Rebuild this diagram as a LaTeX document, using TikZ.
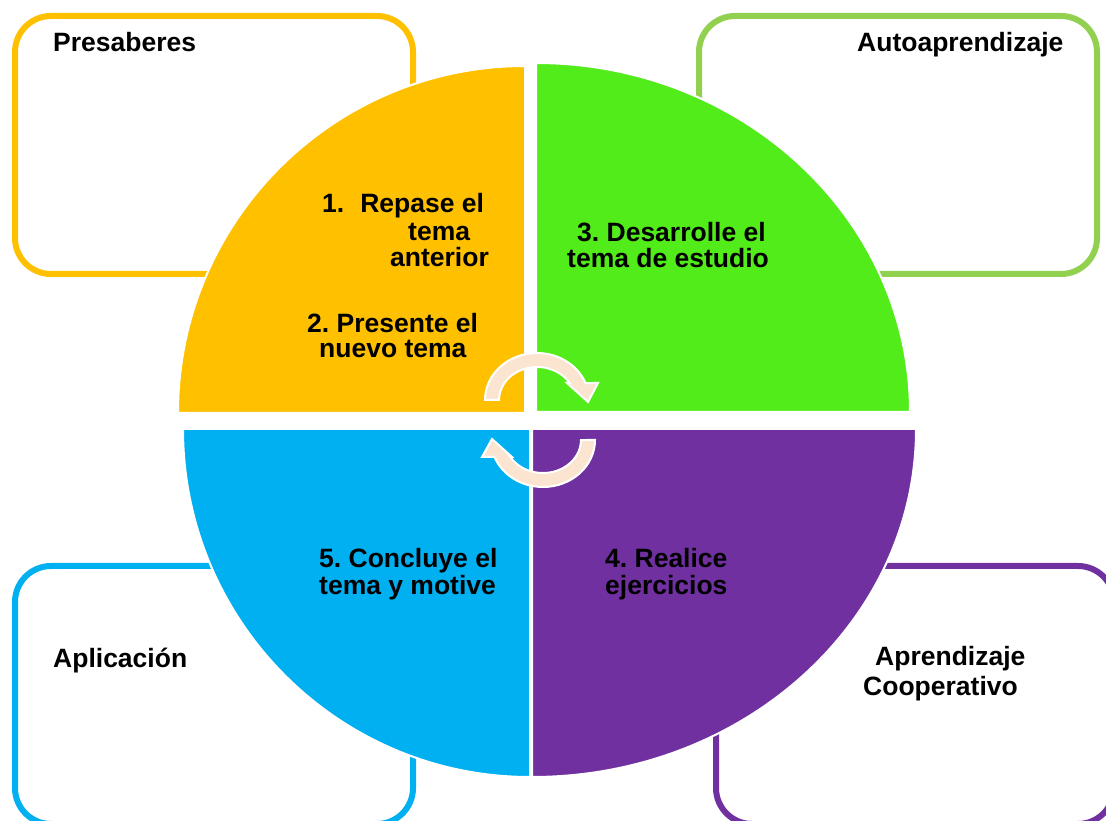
\documentclass[tikz,border=0pt]{standalone}
\usepackage{fontspec}
\setmainfont{Liberation Sans}
\frenchspacing
\definecolor{cOrange}{HTML}{FFC000}
\definecolor{cGreen}{HTML}{52EC1A}
\definecolor{cLGreen}{HTML}{92D050}
\definecolor{cBlue}{HTML}{00B0F0}
\definecolor{cPurple}{HTML}{7030A0}
\definecolor{cPeach}{HTML}{FBE5D0}
\begin{document}
\begin{tikzpicture}[x=1pt,y=1pt,
  framebox/.style={line width=6pt,rounded corners=36pt},
  quad/.style={draw=white,line width=2pt},
  cyc/.style={fill=cPeach,draw=white,line width=2pt,line join=miter},
  lbl/.style={anchor=base west,inner sep=0pt,font=\bfseries\fontsize{26.5}{27}\selectfont}]
\useasboundingbox (0,0) rectangle (1106,820);
\fill[white] (0,0) rectangle (1106,820);
% outer boxes
\draw[framebox,draw=cOrange] (15,546) rectangle (413,804);
\draw[framebox,draw=cLGreen] (699,546) rectangle (1097,804);
\draw[framebox,draw=cBlue] (15,-4) rectangle (413,254);
\draw[framebox,draw=cPurple] (716,-4) rectangle (1114,254);
% quadrants
\filldraw[quad,fill=cOrange] (525,407) -- (178,407) arc[start angle=180,end angle=90,radius=347] -- cycle;
\filldraw[quad,fill=cGreen] (536,408) -- (536,757) arc[start angle=90,end angle=0,x radius=374,y radius=349] -- cycle;
\filldraw[quad,fill=cBlue] (530,391) -- (530,43) arc[start angle=270,end angle=180,x radius=347,y radius=348] -- cycle;
\filldraw[quad,fill=cPurple] (532,391) -- (916,391) arc[start angle=0,end angle=-90,x radius=384,y radius=348] -- cycle;
% cycle arrows
\filldraw[cyc] (485,420) arc[start angle=180,end angle=21.2,x radius=52,y radius=47]
  -- (598,437) -- (588,418) -- (567,437) -- (569.6,437)
  arc[start angle=31,end angle=180,x radius=38,y radius=33] -- cycle;
\filldraw[cyc] (595,380) arc[start angle=0,end angle=-158.8,x radius=52,y radius=47]
  -- (482,363) -- (492,381) -- (512,363) -- (510.4,363)
  arc[start angle=-149,end angle=0,x radius=38,y radius=33] -- cycle;
% box labels
\node[lbl] (presab) at (53,768) {Presaberes};
\node[lbl] (autoap) at (857,768) {Autoaprendizaje};
\node[lbl] (aplic) at (53,153) {Aplicación};
\node[lbl] (aprend) at (875,154) {Aprendizaje};
\node[lbl] (coop) at (863,125) {Cooperativo};
% quadrant labels
\node[lbl] (s1a) at (322,607) {1.\hspace{16pt}Repase el};
\node[lbl] (s1b) at (408,579) {tema};
\node[lbl] (s1c) at (390,553) {anterior};
\node[lbl] (s2a) at (307,487) {2. Presente el};
\node[lbl] (s2b) at (319,462) {nuevo tema};
\node[lbl] (s3a) at (577,578) {3. Desarrolle el};
\node[lbl] (s3b) at (567,552) {tema de estudio};
\node[lbl] (s5a) at (319,252) {5. Concluye el};
\node[lbl] (s5b) at (319,225) {tema y motive};
\node[lbl] (s4a) at (605,252) {4. Realice};
\node[lbl] (s4b) at (605,225) {ejercicios};
\end{tikzpicture}
\end{document}
